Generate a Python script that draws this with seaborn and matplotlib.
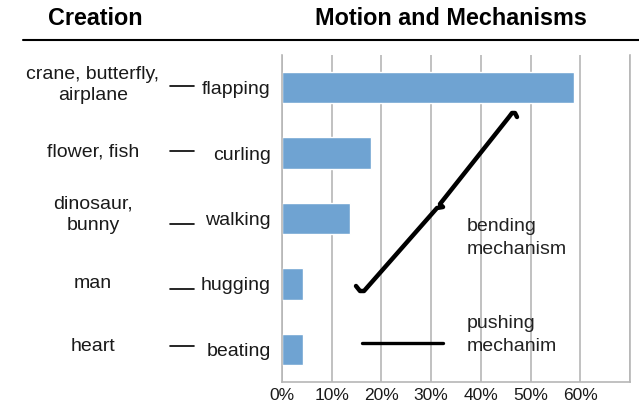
import matplotlib
matplotlib.use("Agg")
import matplotlib.pyplot as plt
import seaborn as sns
import pandas as pd
from matplotlib.lines import Line2D
from matplotlib import transforms

# values (share of creations per motion)
motions = ["flapping", "curling", "walking", "hugging", "beating"]
creations = ["crane, butterfly,\nairplane", "flower, fish", "dinosaur,\nbunny", "man", "heart"]
shares = [0.587, 0.179, 0.136, 0.043, 0.043]
tick_vals = [0.0, 0.1, 0.2, 0.3, 0.4, 0.5, 0.6, 0.7]
tick_labels = ["0%", "10%", "20%", "30%", "40%", "50%", "60%", ""]

df = pd.DataFrame({"motion": motions, "share": shares})

sns.set_theme(style="white")
plt.rcParams["font.family"] = ["Liberation Sans", "DejaVu Sans"]

W, H = 639, 404
fig = plt.figure(figsize=(W / 100, H / 100), dpi=100)
ax = fig.add_axes([282 / W, 1 - 382 / H, 348 / W, 327 / H])

sns.barplot(data=df, x="share", y="motion", orient="h", color="#6fa3d2",
            width=0.48, saturation=1, ax=ax)

ax.set_xlim(0, 0.7)
ax.set_xticks(tick_vals)
ax.set_xticklabels(tick_labels, fontsize=12.5, color="#1a1a1a")
ax.set_xlabel("")
ax.set_ylabel("")
ax.xaxis.grid(True, color="#b6b6b6", linewidth=1.2)
ax.set_axisbelow(True)
ax.tick_params(axis="x", length=2, width=1.2, color="#b6b6b6", pad=2.5)
ax.tick_params(axis="y", length=0, pad=8, labelsize=14, labelcolor="#1a1a1a")
for side in ["left", "right", "bottom"]:
    ax.spines[side].set_visible(True)
    ax.spines[side].set_color("#b6b6b6")
    ax.spines[side].set_linewidth(1.2)
ax.spines["top"].set_visible(False)

# creation names and connecting dashes left of the motion labels
tr = transforms.blended_transform_factory(fig.transFigure, ax.transData)
dash_off = [-0.02, -0.03, 0.08, 0.08, -0.05]
name_off = [-0.04, -0.01, -0.06, -0.01, -0.05]
for i, name in enumerate(creations):
    ax.text(93 / W, i + name_off[i], name, transform=tr, ha="center", va="center",
            fontsize=14, color="#1a1a1a", linespacing=1.3)
    ax.add_line(Line2D([170 / W, 194 / W], [i + dash_off[i]] * 2, transform=tr,
                       color="black", lw=1.2, clip_on=False))

# headers and rule
fig.text(48 / W, 1 - 18.5 / H, "Creation", fontsize=16.8, fontweight="bold",
         va="center", color="black")
fig.text(451 / W, 1 - 18.5 / H, "Motion and Mechanisms", fontsize=16.8,
         fontweight="bold", va="center", ha="center", color="black")
fig.add_artist(Line2D([23 / W, 1.0], [1 - 40 / H] * 2, color="black", lw=1.5))


def px(pts):
    return [p[0] / W for p in pts], [1 - p[1] / H for p in pts]


# bending-mechanism brace
brace = [(356, 286), (360, 291), (364, 291), (437, 208), (443, 207), (440, 204),
         (509, 117), (512, 113), (515, 113), (517, 117)]
bx, by = px(brace)
fig.add_artist(Line2D(bx, by, color="black", lw=3.2, solid_joinstyle="round",
                      solid_capstyle="round"))
fig.text(467 / W, 1 - 238 / H, "bending\nmechanism", fontsize=14, color="#222222",
         va="center", ha="left", linespacing=1.45)

# pushing-mechanism line
lx, ly = px([(362, 343), (443, 343)])
fig.add_artist(Line2D(lx, ly, color="black", lw=2.4))
fig.text(467 / W, 1 - 335 / H, "pushing\nmechanim", fontsize=14, color="#222222",
         va="center", ha="left", linespacing=1.45)

fig.savefig("out.png", dpi=100)
